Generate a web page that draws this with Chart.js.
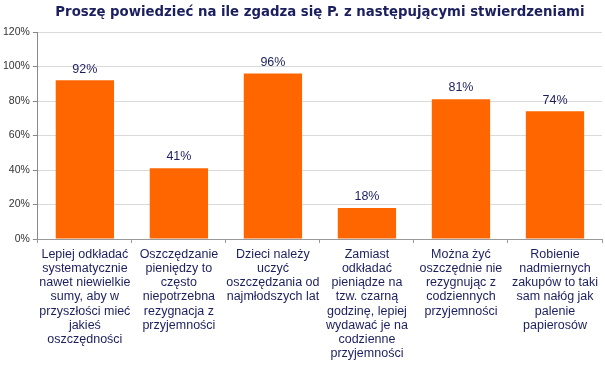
<!DOCTYPE html>
<html>
<head>
<meta charset="utf-8">
<script src="https://cdn.jsdelivr.net/npm/chart.js@4/dist/chart.umd.min.js"></script>
<style>
html,body{margin:0;padding:0;background:#fff;}
#wrap{width:605px;height:365px;}
</style>
</head>
<body>
<div id="wrap"><canvas id="c" width="605" height="365"></canvas></div>
<script>
const titleText = "Proszę powiedzieć na ile zgadza się P. z następującymi stwierdzeniami";
const categories = [
  ["Lepiej odkładać","systematycznie","nawet niewielkie","sumy, aby w","przyszłości mieć","jakieś","oszczędności"],
  ["Oszczędzanie","pieniędzy to","często","niepotrzebna","rezygnacja z","przyjemności"],
  ["Dzieci należy","uczyć","oszczędzania od","najmłodszych lat"],
  ["Zamiast","odkładać","pieniądze na","tzw. czarną","godzinę, lepiej","wydawać je na","codzienne","przyjemności"],
  ["Można żyć","oszczędnie nie","rezygnując z","codziennych","przyjemności"],
  ["Robienie","nadmiernych","zakupów to taki","sam nałóg jak","palenie","papierosów"]
];
const values = [92, 41, 96, 18, 81, 74];
const yTicks = [0, 20, 40, 60, 80, 100, 120];

const navy = '#1b1f5e';
const valueLabels = {
  id: 'valueLabels',
  afterDatasetsDraw(chart) {
    const ctx = chart.ctx;
    const meta = chart.getDatasetMeta(0);
    ctx.save();
    ctx.font = '12.5px "Liberation Sans", Arial, sans-serif';
    ctx.fillStyle = navy;
    ctx.textAlign = 'center';
    ctx.textBaseline = 'bottom';
    meta.data.forEach((bar, i) => {
      ctx.fillText(values[i] + '%', bar.x, bar.y - 5);
    });
    ctx.restore();
  }
};
const plotTitle = {
  id: 'plotTitle',
  afterDraw(chart) {
    const ctx = chart.ctx;
    const a = chart.chartArea;
    ctx.save();
    ctx.font = 'bold 13.3px "DejaVu Sans", Verdana, sans-serif';
    ctx.fillStyle = navy;
    ctx.textAlign = 'center';
    ctx.textBaseline = 'middle';
    ctx.fillText(titleText, (a.left + a.right) / 2, 13);
    ctx.restore();
  }
};

new Chart(document.getElementById('c'), {
  type: 'bar',
  data: {
    labels: categories,
    datasets: [{
      data: values,
      backgroundColor: '#ff6600',
      borderWidth: 0,
      barPercentage: 0.62,
      categoryPercentage: 1
    }]
  },
  options: {
    responsive: false,
    animation: false,
    layout: { padding: { left: 0, right: 3, top: 32, bottom: 0 } },
    plugins: {
      legend: { display: false },
      tooltip: { enabled: false },
      title: { display: false }
    },
    scales: {
      y: {
        min: 0, max: 120,
        afterBuildTicks(axis) { axis.ticks = yTicks.map(v => ({ value: v })); },
        ticks: {
          callback: v => v + '%',
          color: '#333',
          font: { family: '"Liberation Sans", Arial, sans-serif', size: 10.5 },
          padding: 3
        },
        grid: { color: '#dadada', tickLength: 5, tickColor: '#888' },
        border: { color: '#888', width: 1 }
      },
      x: {
        ticks: {
          color: navy,
          font: { family: '"Liberation Sans", Arial, sans-serif', size: 12.5, lineHeight: 1.14 },
          maxRotation: 0, autoSkip: false, padding: 4
        },
        grid: { drawOnChartArea: false, tickLength: 4, color: '#999', offset: true },
        border: { color: '#999', width: 1 }
      }
    }
  },
  plugins: [valueLabels, plotTitle]
});
</script>
</body>
</html>
